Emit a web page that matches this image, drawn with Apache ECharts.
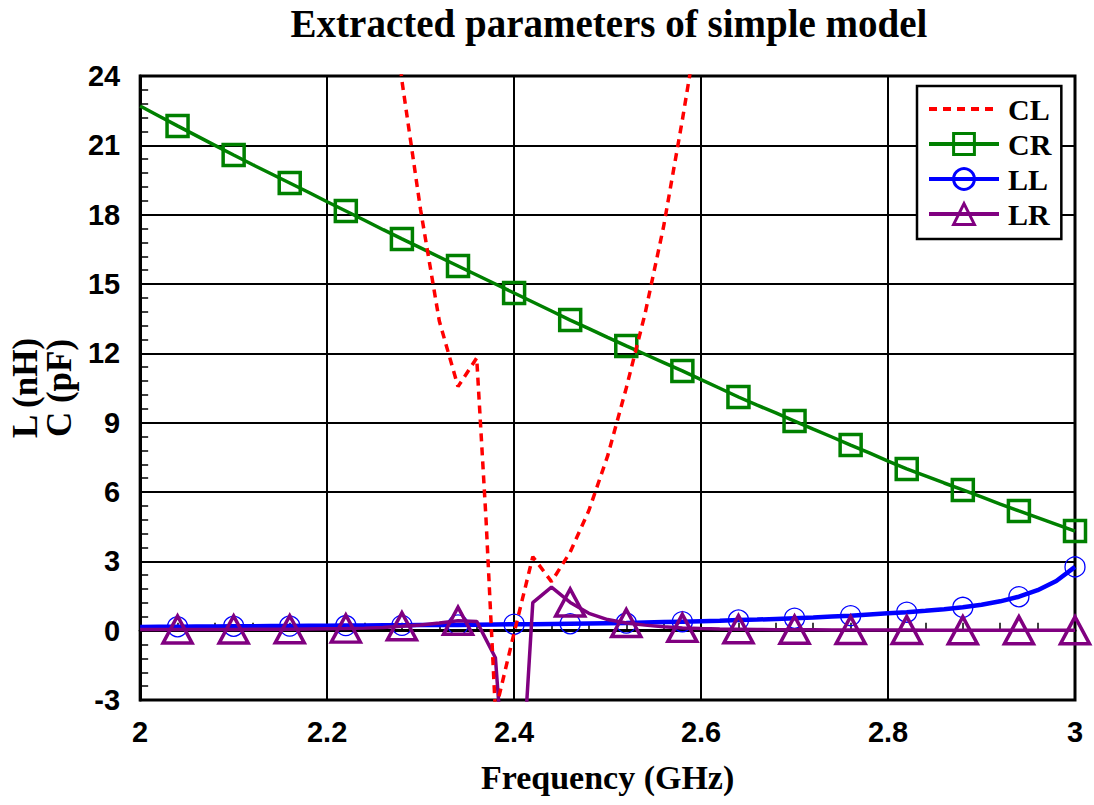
<!DOCTYPE html>
<html>
<head>
<meta charset="utf-8">
<script src="https://cdn.jsdelivr.net/npm/echarts@6/dist/echarts.min.js"></script>
<style>
html,body{margin:0;padding:0;background:#fff;}
#chart{width:1094px;height:805px;}
</style>
</head>
<body>
<div id="chart"></div>
<script>
const freq = [2.00,2.02,2.04,2.06,2.08,2.10,2.12,2.14,2.16,2.18,2.20,2.22,2.24,2.26,2.28,2.30,2.32,2.34,2.36,2.38,2.40,2.42,2.44,2.46,2.48,2.50,2.52,2.54,2.56,2.58,2.60,2.62,2.64,2.66,2.68,2.70,2.72,2.74,2.76,2.78,2.80,2.82,2.84,2.86,2.88,2.90,2.92,2.94,2.96,2.98,3.00];
const crValues = [22.7,22.27,21.84,21.42,21.0,20.58,20.17,19.77,19.37,18.97,18.56,18.16,17.76,17.35,16.95,16.56,16.17,15.78,15.39,15.0,14.61,14.22,13.83,13.44,13.07,12.69,12.32,11.96,11.6,11.24,10.86,10.49,10.11,9.76,9.42,9.07,8.72,8.38,8.03,7.69,7.34,7.0,6.7,6.39,6.09,5.79,5.48,5.18,4.89,4.6,4.31];
const llValues = [0.16,0.17,0.17,0.18,0.18,0.19,0.19,0.2,0.2,0.21,0.21,0.22,0.22,0.23,0.23,0.24,0.25,0.25,0.26,0.27,0.28,0.28,0.29,0.30,0.31,0.32,0.33,0.35,0.37,0.39,0.41,0.43,0.46,0.48,0.51,0.54,0.57,0.61,0.65,0.70,0.75,0.80,0.86,0.93,1.01,1.12,1.27,1.47,1.75,2.15,2.76];
const lrValues = [0.05,0.05,0.05,0.05,0.05,0.05,0.06,0.06,0.06,0.07,0.08,0.09,0.11,0.14,0.19,0.25,0.33,0.43,0.40,-1.17,-12.1,1.21,1.88,1.22,0.75,0.48,0.33,0.24,0.17,0.12,0.09,0.07,0.06,0.05,0.04,0.04,0.04,0.03,0.03,0.03,0.03,0.03,0.02,0.02,0.02,0.02,0.02,0.02,0.02,0.02,0.02];
const clFreq = [2.22,2.24,2.26,2.28,2.30,2.32,2.34,2.36,2.37,2.38,2.40,2.42,2.44,2.46,2.48,2.50,2.52,2.54,2.56,2.58,2.60,2.62];
const clValues = [60,45,32,23.8,18.2,13.4,10.56,11.8,4.8,-3.5,-0.1,3.2,2.12,3.4,5.2,7.55,10.5,13.7,17.5,22.1,27,33];
const xTicks = ['2','2.2','2.4','2.6','2.8','3'];
const yTicks = ['-3','0','3','6','9','12','15','18','21','24'];

const markerEvery = 3, markerStart = 2;
function build(vals){
  return freq.map((f,i)=>{
    const item = {value:[f, vals[i]]};
    if ((i - markerStart) % markerEvery !== 0 || i < markerStart) item.symbol = 'none';
    return item;
  });
}
const serif = "'Liberation Serif','Times New Roman',serif";
const sans = "'Liberation Sans',Arial,sans-serif";

const chart = echarts.init(document.getElementById('chart'), null, {renderer:'svg'});
chart.setOption({
  animation:false,
  backgroundColor:'#fff',
  graphic:[{type:'text', x:609, y:4, style:{text:'Extracted parameters of simple model', font:"bold 39px "+serif, fill:'#000', textAlign:'center'}}],
  grid:{left:138,right:19,top:76,bottom:105,show:true,borderColor:'#000',borderWidth:3},
  legend:{
    orient:'vertical', left:917, top:86, itemWidth:70, itemHeight:26, itemGap:5,
    padding:[8,10,10,10], borderColor:'#000', borderWidth:2.5, backgroundColor:'#fff',
    selectedMode:false,
    lineStyle:{width:4},
    itemStyle:{borderWidth:3},
    textStyle:{fontFamily:serif,fontWeight:'bold',fontSize:30,color:'#000',padding:[0,0,0,4]},
    data:['CL','CR','LL','LR']
  },
  xAxis:{
    type:'value', min:2, max:3, interval:0.2,
    name:'Frequency (GHz)', nameLocation:'middle', nameGap:60,
    nameTextStyle:{fontFamily:serif,fontWeight:'bold',fontSize:34,color:'#000'},
    axisLine:{show:true,lineStyle:{color:'#000',width:3}},
    axisTick:{show:true,inside:true,length:10,lineStyle:{color:'#000',width:2}},
    minorTick:{show:true,splitNumber:5,length:8,lineStyle:{color:'#000',width:1.5}},
    splitLine:{show:true,lineStyle:{color:'#000',width:2}},
    axisLabel:{fontFamily:sans,fontWeight:'bold',fontSize:29,color:'#000',margin:17,
      formatter:(v)=>{const i=Math.round((v-2)/0.2);return xTicks[i]!==undefined?xTicks[i]:'';}}
  },
  yAxis:{
    type:'value', min:-3, max:24, interval:3,
    name:'L (nH)\nC (pF)', nameLocation:'middle', nameRotate:90, nameGap:58,
    nameTextStyle:{fontFamily:serif,fontWeight:'bold',fontSize:35,lineHeight:34,color:'#000'},
    axisLine:{show:true,lineStyle:{color:'#000',width:3}},
    axisTick:{show:true,inside:true,length:10,lineStyle:{color:'#000',width:2}},
    minorTick:{show:true,splitNumber:5,length:8,lineStyle:{color:'#000',width:1.5}},
    splitLine:{show:true,lineStyle:{color:'#000',width:2}},
    axisLabel:{fontFamily:sans,fontWeight:'bold',fontSize:29,color:'#000',margin:20,
      formatter:(v)=>{const i=Math.round((v+3)/3);return yTicks[i]!==undefined?yTicks[i]:'';}}
  },
  series:[
    {name:'CL',type:'line',symbol:'none',z:5,
     data:clFreq.map((f,i)=>[f,clValues[i]]),
     itemStyle:{color:'rgba(0,0,0,0)'},
     lineStyle:{color:'#ff0000',width:3.5,type:[8,6]}},
    {name:'CR',type:'line',symbol:'rect',symbolSize:21,showAllSymbol:true,z:3,
     data:build(crValues),
     itemStyle:{color:'rgba(0,0,0,0)',borderColor:'#008000',borderWidth:3.5},
     lineStyle:{color:'#008000',width:3.5}},
    {name:'LL',type:'line',symbol:'circle',symbolSize:20,showAllSymbol:true,z:3,
     data:build(llValues),
     itemStyle:{color:'rgba(0,0,0,0)',borderColor:'#0000ff',borderWidth:1.3},
     lineStyle:{color:'#0000ff',width:4.5}},
    {name:'LR',type:'line',symbol:'triangle',symbolSize:[29,27],showAllSymbol:true,z:4,
     data:build(lrValues),
     itemStyle:{color:'rgba(0,0,0,0)',borderColor:'#800080',borderWidth:3.5},
     lineStyle:{color:'#800080',width:3.5}}
  ]
});
</script>
</body>
</html>
